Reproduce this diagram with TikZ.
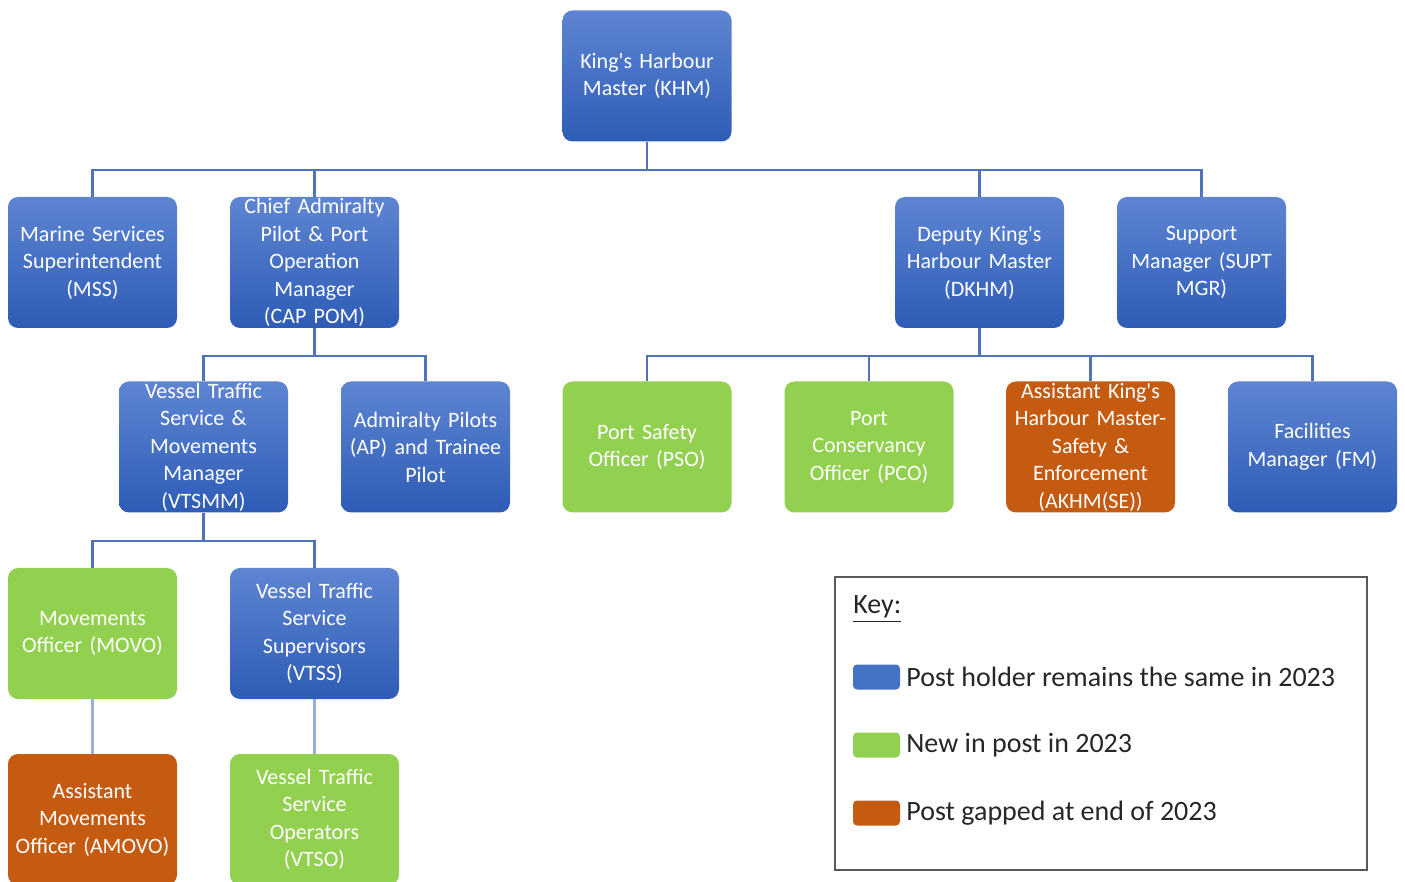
\documentclass[tikz,border=0pt]{standalone}
\usepackage{fontspec}
\setmainfont{Carlito}
\definecolor{bluetop}{RGB}{94,133,210}
\definecolor{bluebot}{RGB}{46,92,182}
\definecolor{grn}{RGB}{146,208,80}
\definecolor{org}{RGB}{197,90,17}
\definecolor{conn}{RGB}{80,115,186}
\definecolor{connlight}{RGB}{150,176,222}
\definecolor{keyblue}{RGB}{68,114,196}
\definecolor{keytxt}{RGB}{38,38,38}
\newcommand{\apos}{\textquotesingle}
\newcommand{\tightsp}{\fontdimen2\font=0.14em\relax}
\begin{document}
\begin{tikzpicture}[x=0.5pt,y=-0.5pt,
 box/.style={rounded corners=5pt, minimum width=84.5pt, minimum height=65.5pt, inner sep=0pt, text width=84pt, align=center, text=white, font=\fontsize{11}{13.75}\selectfont\tightsp},
 bluebox/.style={box, top color=bluetop, bottom color=bluebot},
 greenbox/.style={box, fill=grn},
 orangebox/.style={box, fill=org},
 link/.style={draw=conn, line width=1.1pt},
 linklight/.style={draw=connlight, line width=1.2pt},
 swatch/.style={rounded corners=2pt, minimum width=23.5pt, minimum height=12.5pt, inner sep=0pt},
 keytext/.style={font=\fontsize{14}{17}\selectfont, text=keytxt, anchor=west, inner sep=0pt}]
\useasboundingbox (0,0) rectangle (1405,882);
\clip (0,0) rectangle (1405,882);

\node[bluebox] (khm) at (647,76) {King\apos s Harbour\\Master (KHM)};

\node[bluebox] (mss) at (92.5,262.5) {Marine Services\\Superintendent\\(MSS)};
\node[bluebox] (cap) at (314.5,262.5) {Chief Admiralty\\Pilot \& Port\\Operation\\Manager\\(CAP POM)};
\node[bluebox] (dkhm) at (979.5,262.5) {Deputy King\apos s\\Harbour Master\\(DKHM)};
\node[bluebox] (supt) at (1201.5,262.5) {Support\\Manager (SUPT\\MGR)};

\node[bluebox] (vtsmm) at (203.5,447) {Vessel Traffic\\Service \&\\Movements\\Manager\\(VTSMM)};
\node[bluebox] (ap) at (425.5,447) {Admiralty Pilots\\(AP) and Trainee\\Pilot};
\node[greenbox] (pso) at (647,447) {Port Safety\\Officer (PSO)};
\node[greenbox] (pco) at (869,447) {Port\\Conservancy\\Officer (PCO)};
\node[orangebox] (akhm) at (1090.5,447) {Assistant King\apos s\\Harbour Master-\\Safety \&\\Enforcement\\(AKHM(SE))};
\node[bluebox] (fm) at (1312.5,447) {Facilities\\Manager (FM)};

\node[greenbox] (movo) at (92.5,633.5) {Movements\\Officer (MOVO)};
\node[bluebox] (vtss) at (314.5,633.5) {Vessel Traffic\\Service\\Supervisors\\(VTSS)};

\node[orangebox] (amovo) at (92.5,819.5) {Assistant\\Movements\\Officer (AMOVO)};
\node[greenbox] (vtso) at (314.5,819.5) {Vessel Traffic\\Service\\Operators\\(VTSO)};

% connectors
\foreach \c in {mss,cap,dkhm,supt}
  \draw[link] (khm.south) -- ++(0,28) -| (\c.north);
\foreach \c in {vtsmm,ap}
  \draw[link] (cap.south) -- ++(0,28) -| (\c.north);
\foreach \c in {pso,pco,akhm,fm}
  \draw[link] (dkhm.south) -- ++(0,28) -| (\c.north);
\foreach \c in {movo,vtss}
  \draw[link] (vtsmm.south) -- ++(0,28) -| (\c.north);
\draw[linklight] (movo.south) -- (amovo.north);
\draw[linklight] (vtss.south) -- (vtso.north);

% key
\node[draw=black!65, line width=0.8pt, minimum width=266pt, minimum height=146.5pt, inner sep=0pt] (key) at (1101,723.5) {};
\node[keytext] (keytitle) at (853,609) {\underline{Key:}};
\node[swatch, fill=keyblue] (s1) at (876.5,677) {};
\node[swatch, fill=grn] (s2) at (876.5,745) {};
\node[swatch, fill=org] (s3) at (876.5,813) {};
\node[keytext] (t1) at (906,677) {Post holder remains the same in 2023};
\node[keytext] (t2) at (906,745) {New in post in 2023};
\node[keytext] (t3) at (906,813) {Post gapped at end of 2023};
\end{tikzpicture}
\end{document}
